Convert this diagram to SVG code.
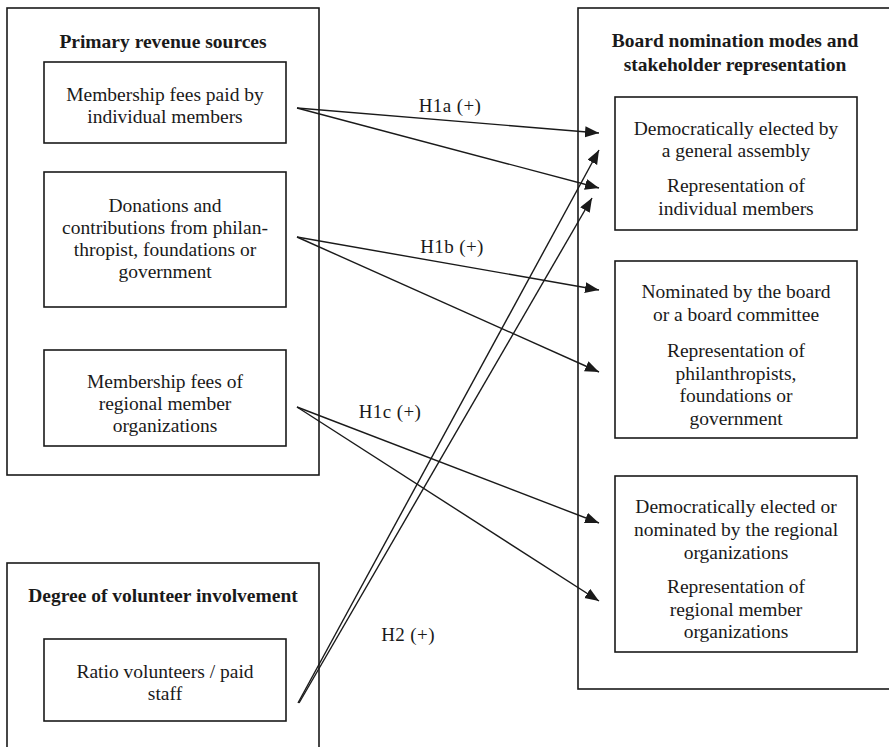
<svg xmlns="http://www.w3.org/2000/svg" width="889" height="747" viewBox="0 0 889 747">
<defs>
<style>
.box{fill:none;stroke:#1a1a1a;stroke-width:1.6}
.t{font-family:"Liberation Serif","Times New Roman",serif;font-size:19.5px;fill:#1a1a1a;text-anchor:middle}
.b{font-weight:bold}
.lbl{font-family:"Liberation Serif","Times New Roman",serif;font-size:19px;fill:#1a1a1a;text-anchor:middle;letter-spacing:0.4px}
.c{fill:none;stroke:#1a1a1a;stroke-width:1.4}
</style>
<marker id="ah" markerUnits="userSpaceOnUse" markerWidth="16" markerHeight="12" refX="14" refY="5.5" orient="auto">
<path d="M0,0 L14,5.5 L0,11 z" fill="#1a1a1a"/>
</marker>
</defs>
<rect width="889" height="747" fill="#fff"/>

<g id="revenue-sources">
<rect class="box" x="7" y="8" width="312" height="467"/>
<text class="t b" x="163" y="48">Primary revenue sources</text>
</g>
<g id="fees-individual">
<rect class="box" x="44" y="62" width="242" height="81"/>
<text class="t" x="165" y="101">Membership fees paid by</text>
<text class="t" x="165" y="123">individual members</text>
</g>
<g id="donations">
<rect class="box" x="44" y="172" width="242" height="135"/>
<text class="t" x="165" y="212">Donations and</text>
<text class="t" x="165" y="234">contributions from philan-</text>
<text class="t" x="165" y="256">thropist, foundations or</text>
<text class="t" x="165" y="278">government</text>
</g>
<g id="fees-regional">
<rect class="box" x="44" y="350" width="242" height="96"/>
<text class="t" x="165" y="388">Membership fees of</text>
<text class="t" x="165" y="410">regional member</text>
<text class="t" x="165" y="432">organizations</text>
</g>

<g id="volunteer">
<rect class="box" x="7" y="563" width="312" height="200"/>
<text class="t b" x="163" y="602">Degree of volunteer involvement</text>
</g>
<g id="ratio">
<rect class="box" x="44" y="639" width="242" height="82"/>
<text class="t" x="165" y="678">Ratio volunteers / paid</text>
<text class="t" x="165" y="700">staff</text>
</g>

<g id="board">
<rect class="box" x="578" y="8" width="330" height="681"/>
<text class="t b" x="735" y="47">Board nomination modes and</text>
<text class="t b" x="735" y="71">stakeholder representation</text>
</g>
<g id="general-assembly">
<rect class="box" x="615" y="97" width="242" height="133"/>
<text class="t" x="736" y="135">Democratically elected by</text>
<text class="t" x="736" y="157">a general assembly</text>
<text class="t" x="736" y="192">Representation of</text>
<text class="t" x="736" y="215">individual members</text>
</g>
<g id="board-committee">
<rect class="box" x="615" y="261" width="242" height="177"/>
<text class="t" x="736" y="298">Nominated by the board</text>
<text class="t" x="736" y="321">or a board committee</text>
<text class="t" x="736" y="357">Representation of</text>
<text class="t" x="736" y="380">philanthropists,</text>
<text class="t" x="736" y="402">foundations or</text>
<text class="t" x="736" y="425">government</text>
</g>
<g id="regional-orgs">
<rect class="box" x="615" y="476" width="242" height="176"/>
<text class="t" x="736" y="513">Democratically elected or</text>
<text class="t" x="736" y="536">nominated by the regional</text>
<text class="t" x="736" y="559">organizations</text>
<text class="t" x="736" y="593">Representation of</text>
<text class="t" x="736" y="616">regional member</text>
<text class="t" x="736" y="638">organizations</text>
</g>

<g id="connectors">
<line class="c" x1="297" y1="108" x2="599" y2="133" marker-end="url(#ah)"/>
<line class="c" x1="297" y1="108" x2="599" y2="188" marker-end="url(#ah)"/>
<line class="c" x1="297" y1="237" x2="599" y2="290" marker-end="url(#ah)"/>
<line class="c" x1="297" y1="237" x2="599" y2="372" marker-end="url(#ah)"/>
<line class="c" x1="297" y1="407" x2="599" y2="523" marker-end="url(#ah)"/>
<line class="c" x1="297" y1="407" x2="599" y2="601" marker-end="url(#ah)"/>
<line class="c" x1="298" y1="703" x2="599" y2="150" marker-end="url(#ah)"/>
<line class="c" x1="299" y1="703" x2="592" y2="198" marker-end="url(#ah)"/>
<text class="lbl" x="450" y="112">H1a (+)</text>
<text class="lbl" x="452" y="253">H1b (+)</text>
<text class="lbl" x="390" y="418">H1c (+)</text>
<text class="lbl" x="408" y="641">H2 (+)</text>
</g>
</svg>
